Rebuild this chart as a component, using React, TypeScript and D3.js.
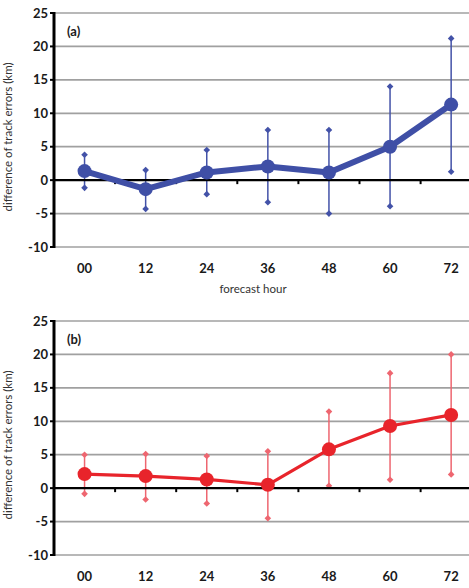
import React from "react";
import * as d3 from "d3";

const hours = ["00", "12", "24", "36", "48", "60", "72"];
const yTicks = [-10, -5, 0, 5, 10, 15, 20, 25];

const meanA = [1.35, -1.35, 1.15, 2.05, 1.15, 5.0, 11.3];
const upperA = [3.8, 1.5, 4.5, 7.5, 7.5, 14.0, 21.2];
const lowerA = [-1.15, -4.3, -2.1, -3.3, -5.0, -3.9, 1.25];

const meanB = [2.1, 1.8, 1.3, 0.5, 5.8, 9.3, 10.95];
const upperB = [5.0, 5.1, 4.8, 5.5, 11.45, 17.2, 20.0];
const lowerB = [-0.85, -1.7, -2.3, -4.5, 0.35, 1.25, 2.05];

const W = 469;
const H = 588;
const FONT = "Lato, 'Open Sans', sans-serif";

type PanelProps = {
  top: number;
  bottom: number;
  mean: number[];
  upper: number[];
  lower: number[];
  color: string;
  errColor: string;
  lineWidth: number;
  label: string;
  xTitle?: string;
};

function Panel({ top, bottom, mean, upper, lower, color, errColor, lineWidth, label, xTitle }: PanelProps) {
  const left = 54;
  const x = d3.scaleBand<string>().domain(hours).range([left, left + 61.1 * 7]).padding(0);
  const y = d3.scaleLinear().domain([-10, 25]).range([bottom, top]);
  const cx = (h: string) => (x(h) as number) + x.bandwidth() / 2;
  const line = d3
    .line<number>()
    .x((_, i) => cx(hours[i]))
    .y((d) => y(d));
  const diamond = d3.symbol().type(d3.symbolSquare).size(22)();
  return (
    <g>
      {yTicks.map((t) => (
        <g key={t}>
          {t !== 0 && <line x1={left} x2={W} y1={y(t)} y2={y(t)} stroke="#a0a0a0" strokeWidth={1.7} />}
          <line x1={left - 4} x2={left} y1={y(t)} y2={y(t)} stroke="#000" strokeWidth={2} />
          <text x={left - 6} y={y(t)} dy="0.35em" textAnchor="end" fontFamily={FONT} fontWeight="bold" fontSize={13} fill="#1a1a1a">
            {t}
          </text>
        </g>
      ))}
      {hours.map((h) => (
        <text key={h} x={cx(h)} y={bottom + 21} dy="0.35em" textAnchor="middle" fontFamily={FONT} fontWeight="bold" fontSize={13} fill="#1a1a1a">
          {h}
        </text>
      ))}
      <text
        transform={`translate(12,${(top + bottom) / 2 + 7}) rotate(-90)`}
        textAnchor="middle"
        fontFamily={FONT}
        fontSize={11.5}
        fill="#333"
      >
        difference of track errors (km)
      </text>
      {xTitle && (
        <text x={253} y={bottom + 42} dy="0.35em" textAnchor="middle" fontFamily={FONT} fontSize={11.5} fill="#333">
          {xTitle}
        </text>
      )}
      <text x={67} y={top + 18} dy="0.35em" fontFamily={FONT} fontWeight="bold" fontSize={13} fill="#1a1a1a">
        {label}
      </text>
      {hours.map((h, i) => (
        <g key={h}>
          <line x1={cx(h)} x2={cx(h)} y1={y(upper[i])} y2={y(lower[i])} stroke={errColor} strokeWidth={1.5} />
          <path d={diamond as string} transform={`translate(${cx(h)},${y(upper[i])}) rotate(45)`} fill={errColor} />
          <path d={diamond as string} transform={`translate(${cx(h)},${y(lower[i])}) rotate(45)`} fill={errColor} />
        </g>
      ))}
      <line x1={left} x2={W} y1={y(0)} y2={y(0)} stroke="#000" strokeWidth={2.2} />
      {hours.slice(1).map((h) => (
        <line key={h} x1={x(h) as number} x2={x(h) as number} y1={y(0)} y2={y(0) + 4} stroke="#000" strokeWidth={2} />
      ))}
      <line x1={left} x2={left} y1={top - 1} y2={bottom + 1} stroke="#000" strokeWidth={3} />
      <path d={line(mean) as string} fill="none" stroke={color} strokeWidth={lineWidth} strokeLinejoin="round" />
      {hours.map((h, i) => (
        <circle key={h} cx={cx(h)} cy={y(mean[i])} r={7} fill={color} />
      ))}
    </g>
  );
}

export default function App() {
  return (
    <svg width={W} height={H} style={{ position: "absolute", left: 0, top: 0, background: "#fff" }}>
      <rect width={W} height={H} fill="#fff" />
      <Panel
        top={13}
        bottom={247}
        mean={meanA}
        upper={upperA}
        lower={lowerA}
        color="#3f4fa6"
        errColor="#4352a8"
        lineWidth={6}
        label="(a)"
        xTitle="forecast hour"
      />
      <Panel
        top={321}
        bottom={555}
        mean={meanB}
        upper={upperB}
        lower={lowerB}
        color="#e8242b"
        errColor="#ee6670"
        lineWidth={3.2}
        label="(b)"
      />
    </svg>
  );
}
